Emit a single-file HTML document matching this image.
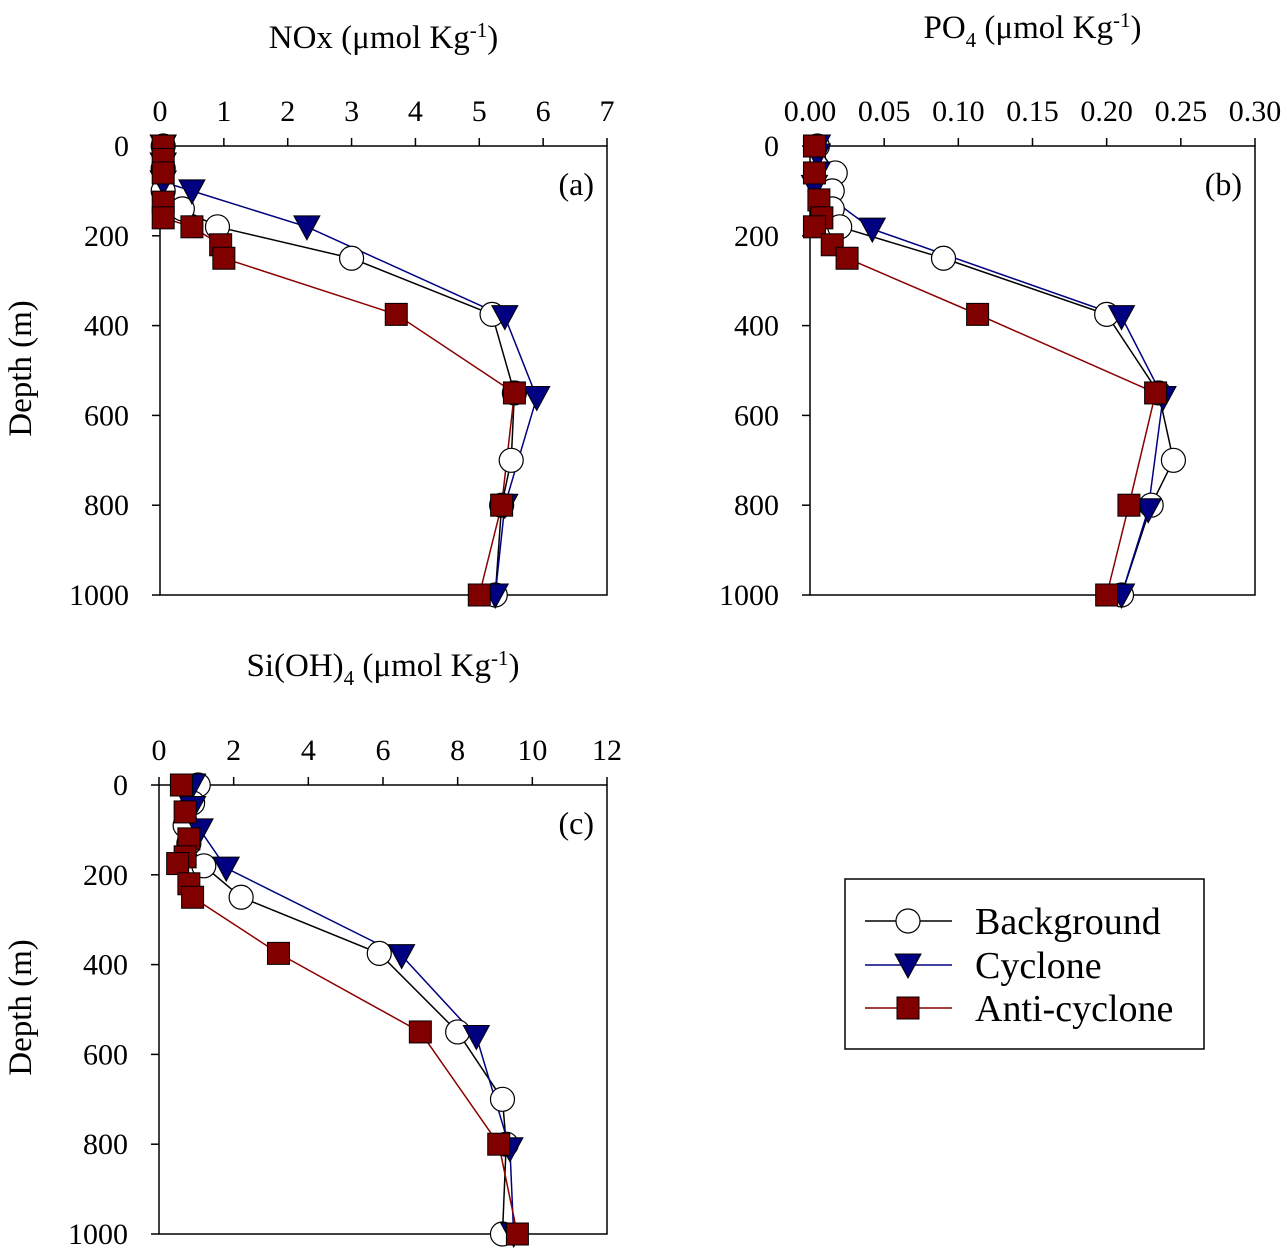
<!DOCTYPE html>
<html><head><meta charset="utf-8"><style>
body{margin:0;background:#fff}
svg{display:block;font-family:"Liberation Serif",serif}
</style></head><body>
<svg id="chart" width="1287" height="1248" viewBox="0 0 1287 1248" xmlns="http://www.w3.org/2000/svg"></svg>
<script>
// Depth values and series values per panel
const depthA_bg=[0,50,100,140,180,250,375,550,700,800,1000];
const valA_bg=[0.05,0.05,0.05,0.35,0.9,3.0,5.2,5.55,5.5,5.35,5.25];
const depthA_cy=[0,40,80,100,180,380,560,800,1000];
const valA_cy=[0.05,0.05,0.05,0.5,2.3,5.4,5.9,5.4,5.25];
const depthA_ac=[0,30,60,125,160,180,220,250,375,550,800,1000];
const valA_ac=[0.05,0.05,0.05,0.05,0.05,0.5,0.95,1.0,3.7,5.55,5.35,5.0];

const depthB_bg=[0,60,100,140,180,250,375,550,700,800,1000];
const valB_bg=[0.005,0.017,0.015,0.015,0.02,0.09,0.2,0.235,0.245,0.23,0.21];
const depthB_cy=[0,20,60,90,185,380,560,810,1000];
const valB_cy=[0.005,0.005,0.005,0.003,0.042,0.21,0.238,0.228,0.21];
const depthB_ac=[0,60,120,160,180,220,250,375,550,800,1000];
const valB_ac=[0.003,0.003,0.006,0.008,0.003,0.015,0.025,0.113,0.233,0.215,0.2];

const depthC_bg=[0,40,90,130,180,250,375,550,700,800,1000];
const valC_bg=[1.05,0.9,0.7,0.8,1.2,2.2,5.9,8.0,9.2,9.3,9.2];
const depthC_cy=[0,50,100,185,380,560,810,1000];
const valC_cy=[0.9,0.9,1.1,1.8,6.5,8.5,9.4,9.5];
const depthC_ac=[0,60,120,160,175,220,250,375,550,800,1000];
const valC_ac=[0.6,0.7,0.8,0.7,0.5,0.8,0.9,3.2,7.0,9.1,9.6];

const ticksA=["0","1","2","3","4","5","6","7"];
const ticksB=["0.00","0.05","0.10","0.15","0.20","0.25","0.30"];
const ticksC=["0","2","4","6","8","10","12"];
const depthTicks=[0,200,400,600,800,1000];

const NS="http://www.w3.org/2000/svg";
const svg=document.getElementById('chart');
function mk(tag,attrs,parent){const e=document.createElementNS(NS,tag);for(const k in attrs)e.setAttribute(k,attrs[k]);(parent||svg).appendChild(e);return e;}

function panel(key,x0,x1,y0,y1,xmax,ticks,label,titleY,bg,cy,ac,showYTitle){
  const g=mk('g',{});
  
  
  const sx=v=>x0+v/xmax*(x1-x0);
  const sy=d=>y0+d/1000*(y1-y0);
  const fr=mk('rect',{x:x0,y:y0,width:x1-x0,height:y1-y0,fill:'none',stroke:'#000','stroke-width':1.5},g);
  
  
  ticks.forEach((t,i)=>{
    const v=i*xmax/(ticks.length-1);
    mk('line',{x1:sx(v),x2:sx(v),y1:y0-8,y2:y0,stroke:'#000','stroke-width':1.5},g);
    const tx=mk('text',{x:sx(v),y:y0-25,'font-size':30,'text-anchor':'middle'},g);
    tx.textContent=t;
    
    
  });
  depthTicks.forEach(d=>{
    mk('line',{x1:x0-8,x2:x0,y1:sy(d),y2:sy(d),stroke:'#000','stroke-width':1.5},g);
    const tx=mk('text',{x:x0-31,y:sy(d)+10,'font-size':30,'text-anchor':'end'},g);
    tx.textContent=d;
    
    
  });
  const pl=mk('text',{x:x1-13,y:y0+49,'font-size':32,'text-anchor':'end'},g);
  pl.textContent='('+key+')';
  
  
  if(showYTitle){
    const yt=mk('text',{x:0,y:0,'font-size':33,'text-anchor':'middle',transform:`translate(31,${(y0+y1)/2-2}) rotate(-90)`},g);
    yt.textContent='Depth (m)';
    
    
  }
  const xt=mk('text',{x:(x0+x1)/2,y:titleY,'font-size':33,'text-anchor':'middle'},g);
  xt.innerHTML=label;
  
  
  [[bg,'#000'],[cy,'#000080'],[ac,'#8b0000']].forEach(([s,c])=>{
    const pts=s[0].map((d,i)=>sx(s[1][i])+','+sy(d)).join(' ');
    const l=mk('polyline',{points:pts,fill:'none',stroke:c,'stroke-width':1.5},g);
    
    
  });
  [[bg,'circle'],[cy,'tri'],[ac,'square']].forEach(([s,m])=>{
    s[0].forEach((d,i)=>{
      const x=sx(s[1][i]),y=sy(d);let e;
      if(m==='circle')e=mk('circle',{cx:x,cy:y,r:12,fill:'#fff',stroke:'#000','stroke-width':1.2},g);
      else if(m==='tri')e=mk('polygon',{points:`${x-13},${y-11} ${x+13},${y-11} ${x},${y+13}`,fill:'#000080',stroke:'#000','stroke-width':1},g);
      else e=mk('rect',{x:x-11,y:y-11,width:22,height:22,fill:'#800000',stroke:'#000','stroke-width':1},g);
      
      
    });
  });
}
panel('a',160,607,146,595,7,ticksA,'NOx (μmol Kg<tspan dy="-11" font-size="21">-1</tspan><tspan dy="11">)</tspan>',48,[depthA_bg,valA_bg],[depthA_cy,valA_cy],[depthA_ac,valA_ac],true);
panel('b',810,1255,146,595,0.30,ticksB,'PO<tspan dy="9" font-size="21">4</tspan><tspan dy="-9"> (μmol Kg</tspan><tspan dy="-11" font-size="21">-1</tspan><tspan dy="11">)</tspan>',38,[depthB_bg,valB_bg],[depthB_cy,valB_cy],[depthB_ac,valB_ac],false);
panel('c',159,607,785,1234,12,ticksC,'Si(OH)<tspan dy="9" font-size="21">4</tspan><tspan dy="-9"> (μmol Kg</tspan><tspan dy="-11" font-size="21">-1</tspan><tspan dy="11">)</tspan>',676,[depthC_bg,valC_bg],[depthC_cy,valC_cy],[depthC_ac,valC_ac],true);
const lg=mk('g',{});


mk('rect',{x:845,y:879,width:359,height:170,fill:'#fff',stroke:'#000','stroke-width':1.5},lg);
[['Background','#000','circle',921],['Cyclone','#000080','tri',965],['Anti-cyclone','#800000','square',1008]].forEach(([n,c,m,y])=>{
  mk('line',{x1:865,x2:952,y1:y,y2:y,stroke:c,'stroke-width':1.5},lg);
  const x=908;
  if(m==='circle')mk('circle',{cx:x,cy:y,r:12,fill:'#fff',stroke:'#000','stroke-width':1.2},lg);
  else if(m==='tri')mk('polygon',{points:`${x-13},${y-11} ${x+13},${y-11} ${x},${y+13}`,fill:'#000080',stroke:'#000'},lg);
  else mk('rect',{x:x-11,y:y-11,width:22,height:22,fill:'#800000',stroke:'#000'},lg);
  const t=mk('text',{x:975,y:y+13,'font-size':38},lg);
  t.textContent=n;
  
  
});
</script>
</body></html>
